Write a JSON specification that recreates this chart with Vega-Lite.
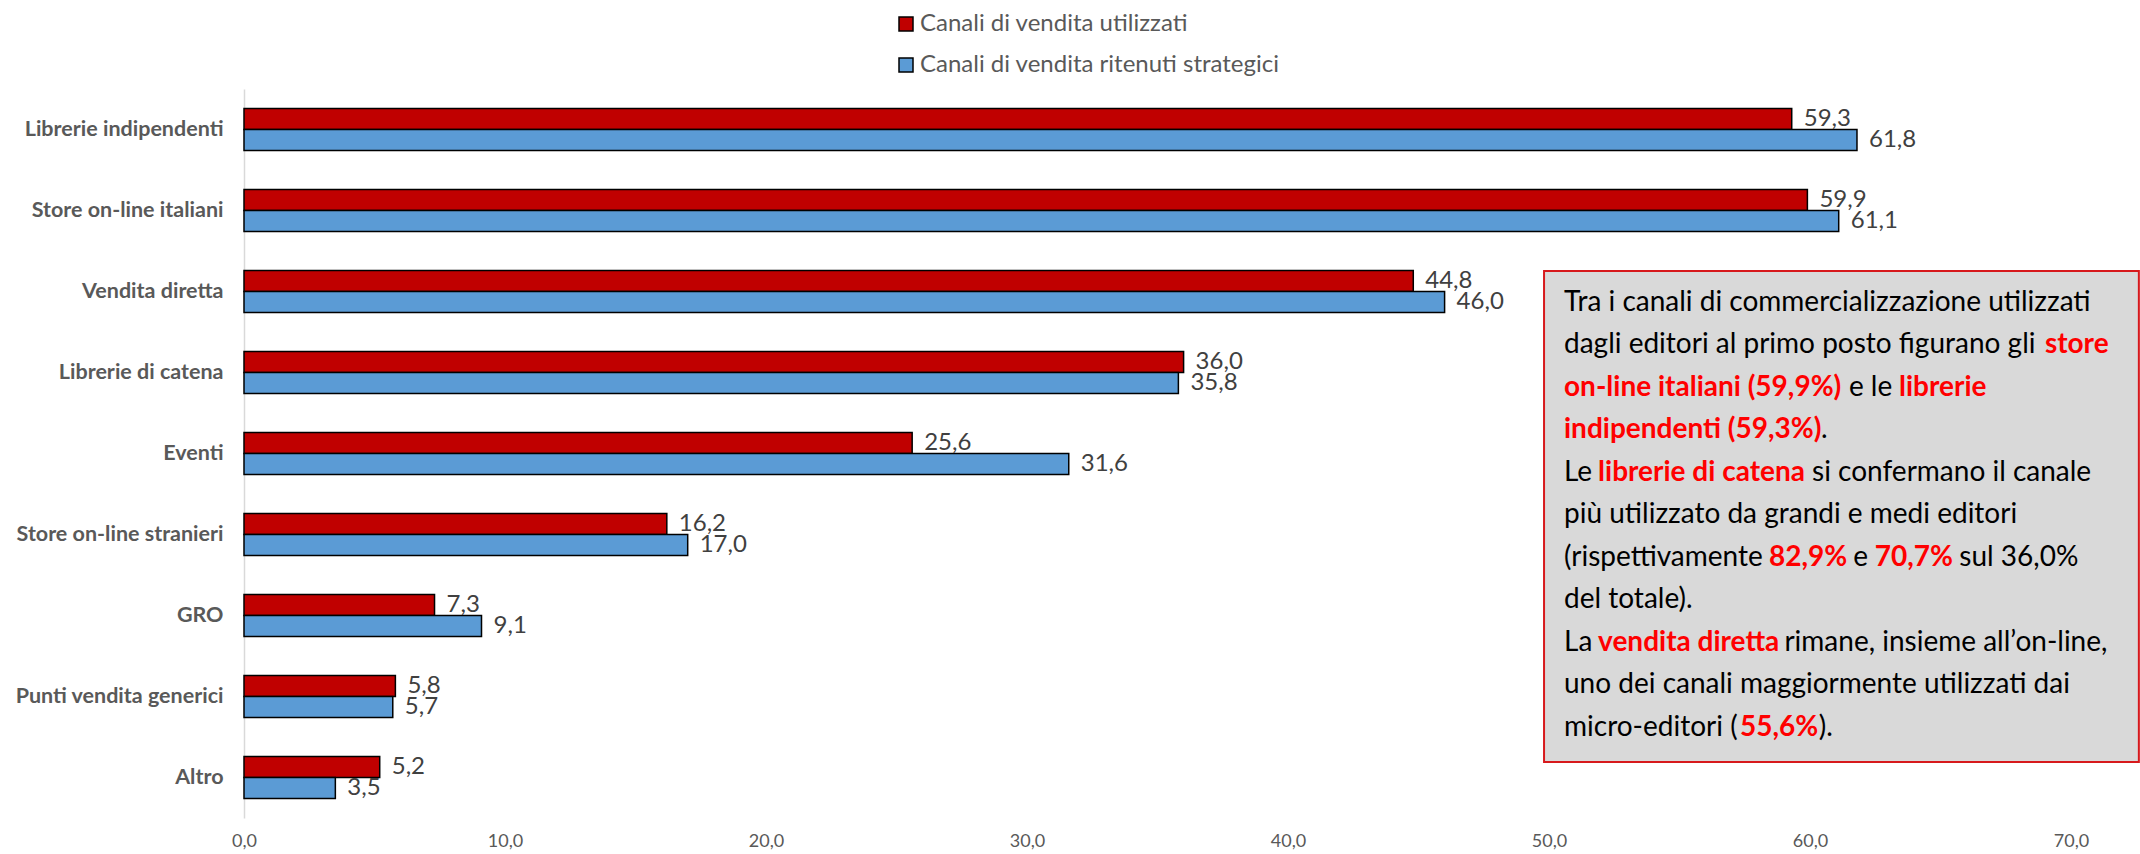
{
  "$schema": "https://vega.github.io/schema/vega-lite/v6.json",
  "width": 1827,
  "height": 729,
  "autosize": {"type": "none"},
  "padding": {"left": 244, "top": 89, "right": 69, "bottom": 36},
  "background": "white",
  "config": {
    "view": {"stroke": null},
    "font": "Lato",
    "locale": {"number": {"decimal": ",", "thousands": ".", "grouping": [3], "currency": ["€", ""]}}
  },
  "datasets": {
    "canali": [
      {"canale": "Librerie indipendenti", "serie": "Canali di vendita utilizzati", "valore": 59.3},
      {"canale": "Librerie indipendenti", "serie": "Canali di vendita ritenuti strategici", "valore": 61.8},
      {"canale": "Store on-line italiani", "serie": "Canali di vendita utilizzati", "valore": 59.9},
      {"canale": "Store on-line italiani", "serie": "Canali di vendita ritenuti strategici", "valore": 61.1},
      {"canale": "Vendita diretta", "serie": "Canali di vendita utilizzati", "valore": 44.8},
      {"canale": "Vendita diretta", "serie": "Canali di vendita ritenuti strategici", "valore": 46.0},
      {"canale": "Librerie di catena", "serie": "Canali di vendita utilizzati", "valore": 36.0},
      {"canale": "Librerie di catena", "serie": "Canali di vendita ritenuti strategici", "valore": 35.8},
      {"canale": "Eventi", "serie": "Canali di vendita utilizzati", "valore": 25.6},
      {"canale": "Eventi", "serie": "Canali di vendita ritenuti strategici", "valore": 31.6},
      {"canale": "Store on-line stranieri", "serie": "Canali di vendita utilizzati", "valore": 16.2},
      {"canale": "Store on-line stranieri", "serie": "Canali di vendita ritenuti strategici", "valore": 17.0},
      {"canale": "GRO", "serie": "Canali di vendita utilizzati", "valore": 7.3},
      {"canale": "GRO", "serie": "Canali di vendita ritenuti strategici", "valore": 9.1},
      {"canale": "Punti vendita generici", "serie": "Canali di vendita utilizzati", "valore": 5.8},
      {"canale": "Punti vendita generici", "serie": "Canali di vendita ritenuti strategici", "valore": 5.7},
      {"canale": "Altro", "serie": "Canali di vendita utilizzati", "valore": 5.2},
      {"canale": "Altro", "serie": "Canali di vendita ritenuti strategici", "valore": 3.5}
    ]
  },
  "layer": [
    {
      "data": {"name": "canali"},
      "encoding": {
        "y": {
          "field": "canale", "type": "nominal",
          "sort": ["Librerie indipendenti", "Store on-line italiani", "Vendita diretta", "Librerie di catena", "Eventi", "Store on-line stranieri", "GRO", "Punti vendita generici", "Altro"],
          "scale": {"paddingInner": 0.48, "paddingOuter": 0.24},
          "axis": {"title": null, "ticks": false, "domain": true, "domainColor": "#d9d9d9", "domainWidth": 1.5, "labelFontSize": 21.5, "labelFontWeight": "bold", "labelColor": "#595959", "labelPadding": 21, "labelLimit": 0}
        },
        "yOffset": {
          "field": "serie", "type": "nominal",
          "sort": ["Canali di vendita utilizzati", "Canali di vendita ritenuti strategici"],
          "scale": {"paddingInner": 0, "paddingOuter": 0}
        },
        "x": {
          "field": "valore", "type": "quantitative",
          "scale": {"domain": [0, 70], "nice": false, "zero": true},
          "axis": {"title": null, "values": [0, 10, 20, 30, 40, 50, 60, 70], "format": ".1f", "grid": false, "ticks": false, "domain": false, "labelFlush": false, "labelFontSize": 18, "labelColor": "#595959", "labelPadding": 14}
        }
      },
      "layer": [
        {
          "mark": {"type": "bar", "stroke": "black", "strokeWidth": 1.5},
          "encoding": {
            "color": {
              "field": "serie", "type": "nominal",
              "scale": {"domain": ["Canali di vendita utilizzati", "Canali di vendita ritenuti strategici"], "range": ["#C00000", "#5B9BD5"]},
              "legend": {"orient": "none", "legendX": 650, "legendY": -77, "title": null, "direction": "vertical", "symbolType": "square", "symbolSize": 196, "symbolStrokeColor": "black", "symbolStrokeWidth": 1.5, "symbolOpacity": 1, "labelFontSize": 24, "labelColor": "#595959", "rowPadding": 17, "labelOffset": 2, "padding": 0, "labelLimit": 0}
            }
          }
        },
        {
          "mark": {"type": "text", "align": "left", "baseline": "middle", "dx": 12, "fontSize": 24, "color": "#404040"},
          "encoding": {"text": {"field": "valore", "type": "quantitative", "format": ".1f"}}
        }
      ]
    },
    {
      "data": {"values": [{}]},
      "layer": [
        {
          "mark": {"type": "rect", "fill": "#D9D9D9", "stroke": "#D7191C", "strokeWidth": 2},
          "encoding": {
            "x": {"datum": 49.81, "type": "quantitative"},
            "x2": {"datum": 72.6},
            "y": {"datum": 0.247, "type": "quantitative", "scale": {"domain": [-4.035, 13.118], "reverse": true, "nice": false, "zero": false}, "axis": null},
            "y2": {"datum": 11.8}
          }
        },
        {"mark": {"type": "text", "align": "left", "baseline": "middle", "fontSize": 28, "color": "#000000", "text": "Tra i canali di commercializzazione utilizzati"}, "encoding": {"x": {"datum": 50.575, "type": "quantitative"}, "y": {"datum": 1, "type": "quantitative"}}},
        {"mark": {"type": "text", "align": "left", "baseline": "middle", "fontSize": 28, "color": "#000000", "text": "dagli editori al primo posto figurano gli"}, "encoding": {"x": {"datum": 50.575, "type": "quantitative"}, "y": {"datum": 2, "type": "quantitative"}}},
        {"mark": {"type": "text", "align": "left", "baseline": "middle", "fontSize": 28, "fontWeight": "bold", "color": "#FF0000", "text": "store"}, "encoding": {"x": {"datum": 69.0, "type": "quantitative"}, "y": {"datum": 2, "type": "quantitative"}}},
        {"mark": {"type": "text", "align": "left", "baseline": "middle", "fontSize": 28, "fontWeight": "bold", "color": "#FF0000", "text": "on-line italiani (59,9%)"}, "encoding": {"x": {"datum": 50.575, "type": "quantitative"}, "y": {"datum": 3, "type": "quantitative"}}},
        {"mark": {"type": "text", "align": "left", "baseline": "middle", "fontSize": 28, "color": "#000000", "text": "e le"}, "encoding": {"x": {"datum": 61.49, "type": "quantitative"}, "y": {"datum": 3, "type": "quantitative"}}},
        {"mark": {"type": "text", "align": "left", "baseline": "middle", "fontSize": 28, "fontWeight": "bold", "color": "#FF0000", "text": "librerie"}, "encoding": {"x": {"datum": 63.41, "type": "quantitative"}, "y": {"datum": 3, "type": "quantitative"}}},
        {"mark": {"type": "text", "align": "left", "baseline": "middle", "fontSize": 28, "fontWeight": "bold", "color": "#FF0000", "text": "indipendenti (59,3%)"}, "encoding": {"x": {"datum": 50.575, "type": "quantitative"}, "y": {"datum": 4, "type": "quantitative"}}},
        {"mark": {"type": "text", "align": "left", "baseline": "middle", "fontSize": 28, "color": "#000000", "text": "."}, "encoding": {"x": {"datum": 60.42, "type": "quantitative"}, "y": {"datum": 4, "type": "quantitative"}}},
        {"mark": {"type": "text", "align": "left", "baseline": "middle", "fontSize": 28, "color": "#000000", "text": "Le"}, "encoding": {"x": {"datum": 50.575, "type": "quantitative"}, "y": {"datum": 5, "type": "quantitative"}}},
        {"mark": {"type": "text", "align": "left", "baseline": "middle", "fontSize": 28, "fontWeight": "bold", "color": "#FF0000", "text": "librerie di catena"}, "encoding": {"x": {"datum": 51.88, "type": "quantitative"}, "y": {"datum": 5, "type": "quantitative"}}},
        {"mark": {"type": "text", "align": "left", "baseline": "middle", "fontSize": 28, "color": "#000000", "text": "si confermano il canale"}, "encoding": {"x": {"datum": 60.08, "type": "quantitative"}, "y": {"datum": 5, "type": "quantitative"}}},
        {"mark": {"type": "text", "align": "left", "baseline": "middle", "fontSize": 28, "color": "#000000", "text": "più utilizzato da grandi e medi editori"}, "encoding": {"x": {"datum": 50.575, "type": "quantitative"}, "y": {"datum": 6, "type": "quantitative"}}},
        {"mark": {"type": "text", "align": "left", "baseline": "middle", "fontSize": 28, "color": "#000000", "text": "(rispettivamente"}, "encoding": {"x": {"datum": 50.575, "type": "quantitative"}, "y": {"datum": 7, "type": "quantitative"}}},
        {"mark": {"type": "text", "align": "left", "baseline": "middle", "fontSize": 28, "fontWeight": "bold", "color": "#FF0000", "text": "82,9%"}, "encoding": {"x": {"datum": 58.43, "type": "quantitative"}, "y": {"datum": 7, "type": "quantitative"}}},
        {"mark": {"type": "text", "align": "left", "baseline": "middle", "fontSize": 28, "color": "#000000", "text": "e"}, "encoding": {"x": {"datum": 61.66, "type": "quantitative"}, "y": {"datum": 7, "type": "quantitative"}}},
        {"mark": {"type": "text", "align": "left", "baseline": "middle", "fontSize": 28, "fontWeight": "bold", "color": "#FF0000", "text": "70,7%"}, "encoding": {"x": {"datum": 62.48, "type": "quantitative"}, "y": {"datum": 7, "type": "quantitative"}}},
        {"mark": {"type": "text", "align": "left", "baseline": "middle", "fontSize": 28, "color": "#000000", "text": "sul 36,0%"}, "encoding": {"x": {"datum": 65.72, "type": "quantitative"}, "y": {"datum": 7, "type": "quantitative"}}},
        {"mark": {"type": "text", "align": "left", "baseline": "middle", "fontSize": 28, "color": "#000000", "text": "del totale)."}, "encoding": {"x": {"datum": 50.575, "type": "quantitative"}, "y": {"datum": 8, "type": "quantitative"}}},
        {"mark": {"type": "text", "align": "left", "baseline": "middle", "fontSize": 28, "color": "#000000", "text": "La"}, "encoding": {"x": {"datum": 50.575, "type": "quantitative"}, "y": {"datum": 9, "type": "quantitative"}}},
        {"mark": {"type": "text", "align": "left", "baseline": "middle", "fontSize": 28, "fontWeight": "bold", "color": "#FF0000", "text": "vendita diretta"}, "encoding": {"x": {"datum": 51.88, "type": "quantitative"}, "y": {"datum": 9, "type": "quantitative"}}},
        {"mark": {"type": "text", "align": "left", "baseline": "middle", "fontSize": 28, "color": "#000000", "text": "rimane, insieme all’on-line,"}, "encoding": {"x": {"datum": 59.02, "type": "quantitative"}, "y": {"datum": 9, "type": "quantitative"}}},
        {"mark": {"type": "text", "align": "left", "baseline": "middle", "fontSize": 28, "color": "#000000", "text": "uno dei canali maggiormente utilizzati dai"}, "encoding": {"x": {"datum": 50.575, "type": "quantitative"}, "y": {"datum": 10, "type": "quantitative"}}},
        {"mark": {"type": "text", "align": "left", "baseline": "middle", "fontSize": 28, "color": "#000000", "text": "micro-editori ("}, "encoding": {"x": {"datum": 50.575, "type": "quantitative"}, "y": {"datum": 11, "type": "quantitative"}}},
        {"mark": {"type": "text", "align": "left", "baseline": "middle", "fontSize": 28, "fontWeight": "bold", "color": "#FF0000", "text": "55,6%"}, "encoding": {"x": {"datum": 57.32, "type": "quantitative"}, "y": {"datum": 11, "type": "quantitative"}}},
        {"mark": {"type": "text", "align": "left", "baseline": "middle", "fontSize": 28, "color": "#000000", "text": ")."}, "encoding": {"x": {"datum": 60.34, "type": "quantitative"}, "y": {"datum": 11, "type": "quantitative"}}}
      ]
    }
  ],
  "resolve": {"scale": {"y": "independent"}, "axis": {"y": "independent"}}
}
